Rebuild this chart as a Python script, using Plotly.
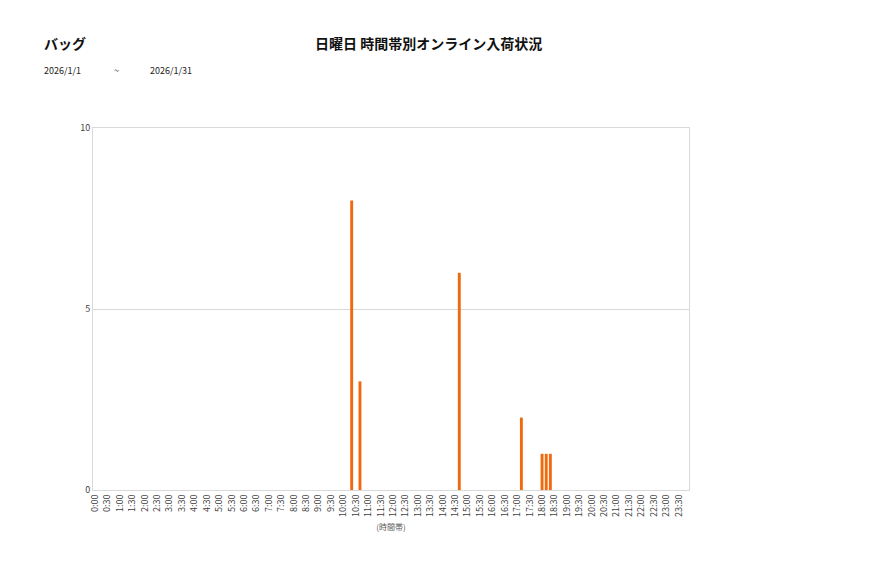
import plotly.graph_objs as go

# 10-minute slots, labelled every 30 minutes
slots = [f"{h}:{m:02d}" for h in range(24) for m in range(0, 60, 10)]
tick_labels = [f"{h}:{m:02d}" for h in range(24) for m in (0, 30)]

hit_times = ['10:20', '10:40', '14:40', '17:10', '18:00', '18:10', '18:20']
hit_counts = [8, 3, 6, 2, 1, 1, 1]

counts = dict(zip(hit_times, hit_counts))
y_vals = [counts.get(s, 0) for s in slots]

font = 'Noto Sans CJK JP'
grid = '#d9d9d9'

fig = go.Figure()
fig.add_trace(go.Bar(x=slots, y=y_vals, marker_color='#F0690F', marker_line_width=0))

fig.update_layout(
    width=877, height=578,
    margin=dict(l=93, r=188, t=128, b=88),
    plot_bgcolor='white', paper_bgcolor='white',
    font=dict(family=font, color='#404040', size=9),
    bargap=0.3, showlegend=False,
    xaxis=dict(type='category', categoryorder='array', categoryarray=slots,
               tickmode='array', tickvals=tick_labels, ticktext=tick_labels,
               tickangle=-90, tickfont=dict(size=9, color='#404040'),
               showline=True, linecolor=grid, mirror=True, showgrid=False,
               ticks='', title=dict(text='(時間帯)', font=dict(size=8, color='#595959'), standoff=8)),
    yaxis=dict(range=[0, 10], tickvals=[0, 5, 10], showgrid=True, gridcolor=grid,
               showline=True, linecolor=grid, mirror=True, zeroline=False,
               ticks='', tickfont=dict(size=9, color='#404040')),
)

fig.add_annotation(text='<b>日曜日 時間帯別オンライン入荷状況</b>', x=428, y=43, xanchor='center',
                   font=dict(size=14, color='#111111'))
fig.add_annotation(text='<b>バッグ</b>', x=42, y=43, xanchor='left',
                   font=dict(size=14, color='#111111'))
for txt, xp in [('2026/1/1', 42), ('~', 112), ('2026/1/31', 148)]:
    fig.add_annotation(text=txt, x=xp, y=70, xanchor='left',
                       font=dict(size=9, color='#222222'))

# convert pixel spots to paper coords
pw, ph = 877 - 93 - 188, 578 - 128 - 88
for a in fig.layout.annotations:
    a.xref, a.yref, a.showarrow, a.yanchor = 'paper', 'paper', False, 'middle'
    a.x = (a.x - 93) / pw
    a.y = (578 - 88 - a.y) / ph

fig.write_html("out.html", config={'displayModeBar': False},
               post_script="document.body.style.margin='0px';")
